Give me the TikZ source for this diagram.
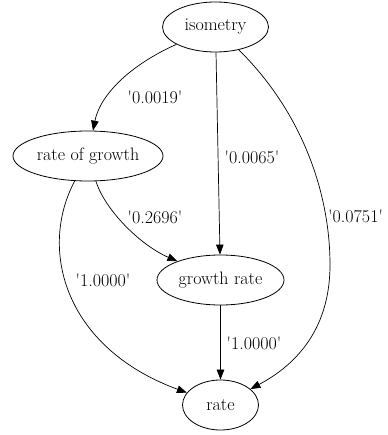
\documentclass[tikz,border=0pt]{standalone}
\usepackage{fontspec}
\usetikzlibrary{shapes.geometric,arrows.meta}
\newcommand{\qv}[1]{\textquotesingle#1\textquotesingle}
\begin{document}
\begin{tikzpicture}[x=1pt,y=-1pt,
  every node/.style={font=\fontsize{18}{21}\selectfont},
  nd/.style={draw,ellipse,inner sep=0pt,line width=0.8pt,minimum height=50pt},
  edge/.style={draw,line width=0.7pt,-{Triangle[length=10pt,width=7.5pt]}},
  lbl/.style={inner sep=0pt}]
\useasboundingbox (0,0) rectangle (387,435);
\node[nd,minimum width=106pt] (iso) at (215.5,27) {isometry};
\node[nd,minimum width=150pt] (rog) at (88,156) {rate of growth};
\node[nd,minimum width=127pt] (gr) at (220.5,280) {growth rate};
\node[nd,minimum width=76pt] (rate) at (220.5,405) {rate};
\coordinate (m1) at (330,265);
\path[edge] (iso) .. controls (130,65) and (100,95) .. (rog);
\path[edge] (iso) -- (gr);
\path[edge] (iso) .. controls (300,110) and (330,190) .. (m1) .. controls (330,320) and (305,360) .. (rate);
\path[edge] (rog) .. controls (105,210) and (140,245) .. (gr);
\path[edge] (rog) .. controls (38,250) and (65,348) .. (rate);
\path[edge] (gr) -- (rate);
\node[lbl] (l1) at (155,97) {\qv{0.0019}};
\node[lbl] (l2) at (252,157) {\qv{0.0065}};
\node[lbl,anchor=west] (l3) at (328,216) {\qv{0.0751}};
\node[lbl] (l4) at (155,217) {\qv{0.2696}};
\node[lbl] (l5) at (103,280) {\qv{1.0000}};
\node[lbl] (l6) at (254,343) {\qv{1.0000}};
\end{tikzpicture}
\end{document}
